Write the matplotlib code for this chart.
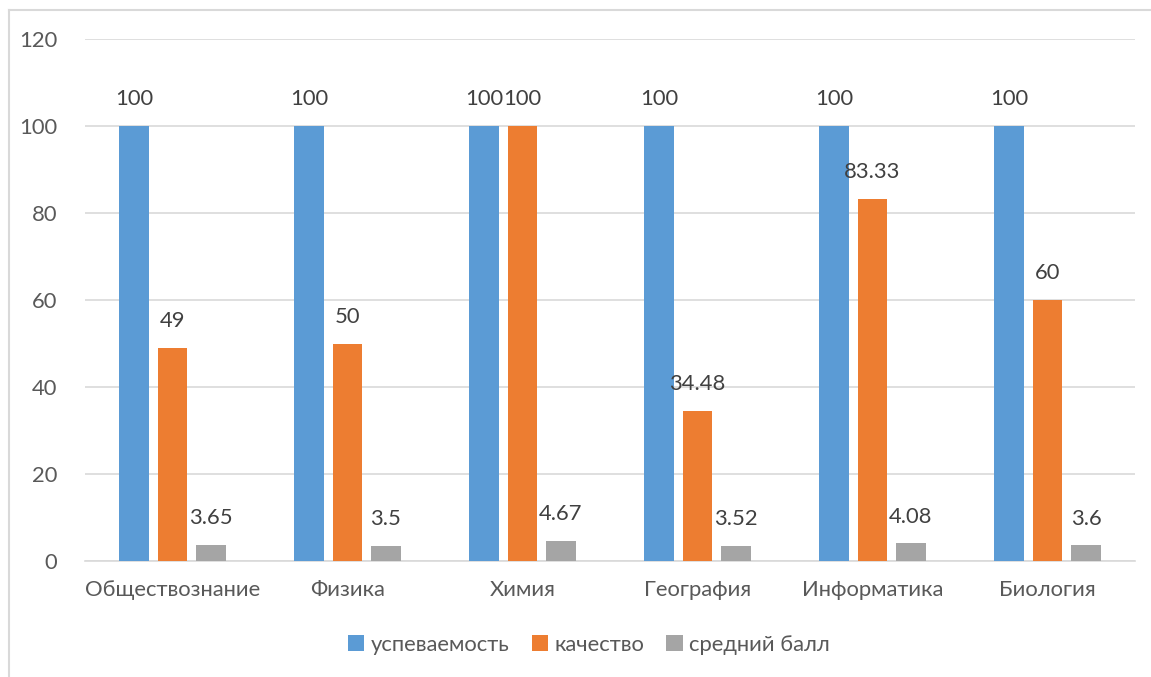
import matplotlib
matplotlib.use("Agg")
import matplotlib.pyplot as plt
import numpy as np
from matplotlib.lines import Line2D

categories = ["Обществознание", "Физика", "Химия", "География", "Информатика", "Биология"]
uspev = [100, 100, 100, 100, 100, 100]
kachestvo = [49, 50, 100, 34.48, 83.33, 60]
sred_ball = [3.65, 3.5, 4.67, 3.52, 4.08, 3.6]
series_names = ["успеваемость", "качество", "средний балл"]
colors = ["#5B9BD5", "#ED7D31", "#A5A5A5"]
label_texts = [
    ["100", "100", "100", "100", "100", "100"],
    ["49", "50", "100", "34.48", "83.33", "60"],
    ["3.65", "3.5", "4.67", "3.52", "4.08", "3.6"],
]

plt.rcParams['font.family'] = ['Lato', 'DejaVu Sans']
txt_color = "#595959"
grid_color = "#D9D9D9"
fs = 15.8

fig = plt.figure(figsize=(11.51, 6.77), dpi=100)
ax = fig.add_axes([85/1151, 1 - 561/677, 1050/1151, (561-39)/677])

x = np.arange(len(categories))
width = 0.171
offset = 0.22
series = [uspev, kachestvo, sred_ball]
for i, (vals, name, c) in enumerate(zip(series, series_names, colors)):
    pos = x + (i - 1) * offset
    bars = ax.bar(pos, vals, width=width, color=c, label=name, zorder=3)
    for b, t in zip(bars, label_texts[i]):
        ax.annotate(t, (b.get_x() + b.get_width() / 2, b.get_height()),
                    xytext=(0, 12), textcoords="offset points",
                    ha="center", va="bottom", fontsize=fs, color="#404040")

ax.set_xlim(-0.5, len(categories) - 0.5)
ax.set_ylim(0, 120)
ax.set_yticks(np.arange(0, 121, 20))
ax.yaxis.grid(True, color=grid_color, linewidth=1.2, zorder=0)
ax.set_axisbelow(True)
for s in ["top", "right", "left"]:
    ax.spines[s].set_visible(False)
ax.spines["bottom"].set_color(grid_color)
ax.spines["bottom"].set_linewidth(1.2)
ax.tick_params(axis="both", length=0, labelsize=fs, colors=txt_color)
ax.tick_params(axis="y", pad=20)
ax.tick_params(axis="x", pad=14)
ax.set_xticks(x)
ax.set_xticklabels(categories)

leg = fig.legend(loc="center", bbox_to_anchor=(589/1151, 1 - 645/677), ncol=3,
                 frameon=False, fontsize=fs, handlelength=0.75, handleheight=0.75,
                 handletextpad=0.3, columnspacing=1.0)
for t in leg.get_texts():
    t.set_color(txt_color)

# chart border (top and left visible)
fig.add_artist(Line2D([9/1151, 1], [1 - 10/677, 1 - 10/677], transform=fig.transFigure,
                      color=grid_color, linewidth=1.5))
fig.add_artist(Line2D([9/1151, 9/1151], [0, 1 - 10/677], transform=fig.transFigure,
                      color=grid_color, linewidth=1.5))

fig.savefig("out.png", dpi=100)
